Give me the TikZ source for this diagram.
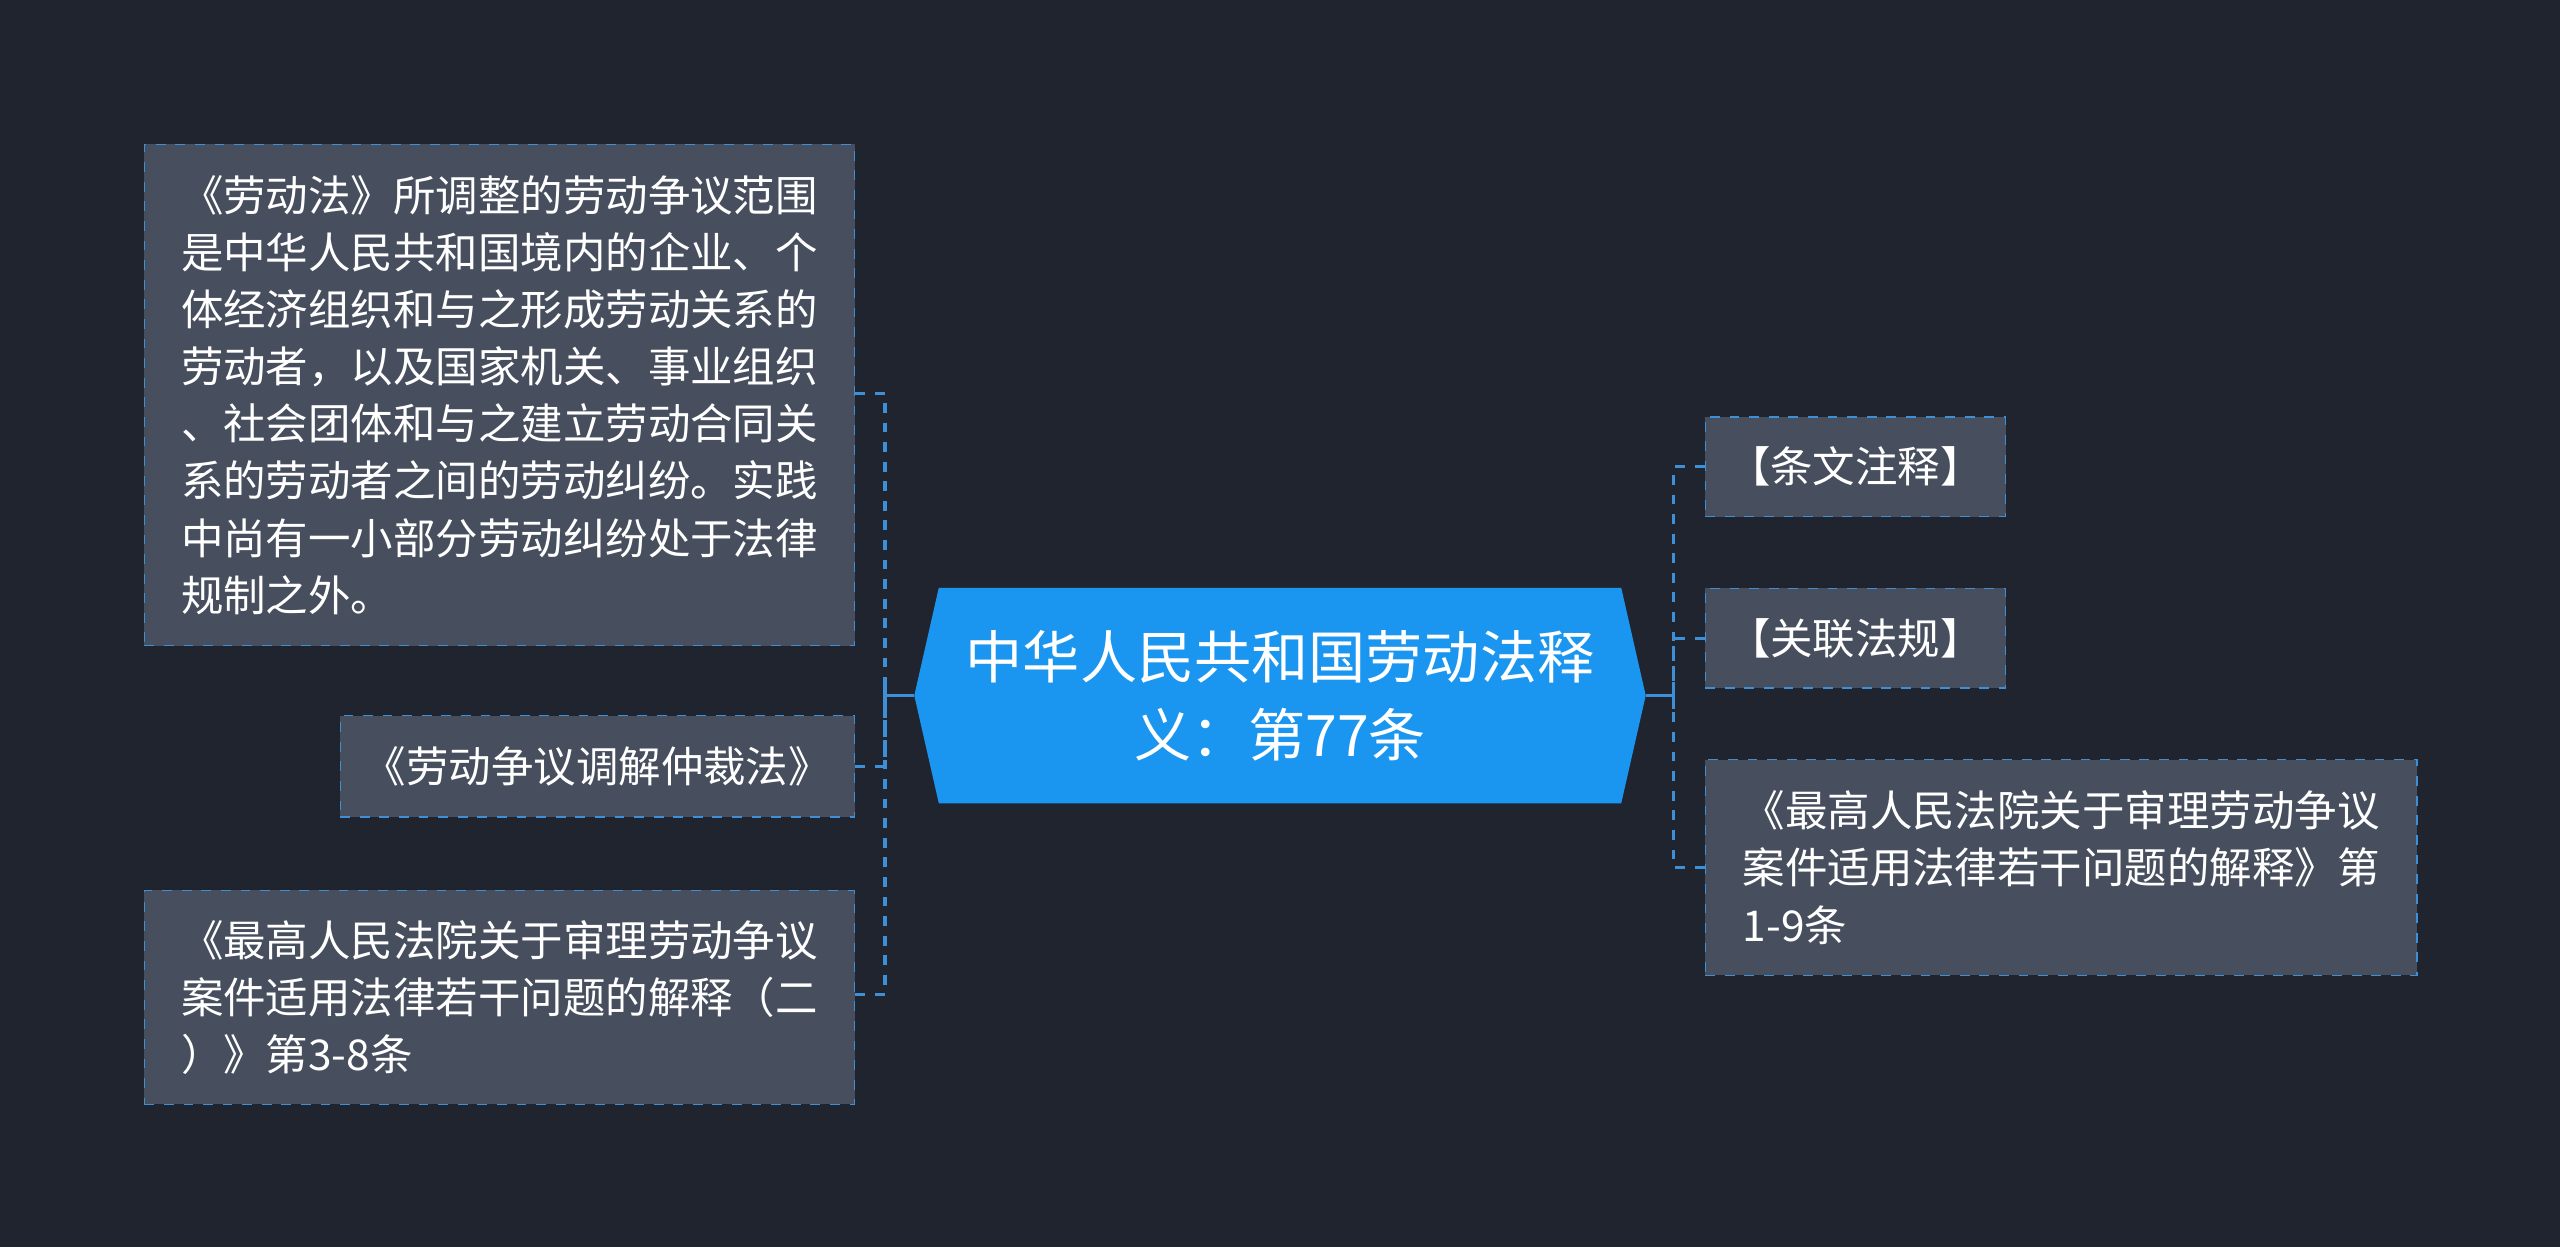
\documentclass[tikz,border=0pt]{standalone}
\usepackage{fontspec}
\setmainfont{Noto Sans CJK SC}
\definecolor{bgc}{HTML}{20242F}
\definecolor{boxc}{HTML}{474F5E}
\definecolor{linec}{HTML}{3D8FD8}
\definecolor{mainc}{HTML}{1A96F0}
\tikzset{
  leaf/.style={draw=linec, dashed, fill=boxc, text=white, anchor=north west, align=left,
    font=\fontsize{13pt}{17.5pt}\selectfont, inner xsep=3pt, inner ysep=0pt},
  link/.style={draw=linec, dashed, line width=1pt},
}
\begin{document}
\begin{tikzpicture}[x=0.5pt,y=-0.5pt]
\fill[bgc] (0,0) rectangle (1568,764);
\useasboundingbox (0,0) rectangle (1568,764);

%central topic
\fill[mainc] (560,426) -- (575,360) -- (993,360) -- (1008,426) -- (993,492) -- (575,492) -- cycle;
\node[text=white, align=center, font=\fontsize{17.5pt}{24pt}\selectfont] (main) at (784,426)
  {中华人民共和国劳动法释\\义：第77条};

%left leaves
\node[leaf, minimum width=217.5pt, minimum height=153.5pt] (l1) at (88,88)
  {《劳动法》所调整的劳动争议范围\\是中华人民共和国境内的企业、个\\体经济组织和与之形成劳动关系的\\劳动者，以及国家机关、事业组织\\、社会团体和与之建立劳动合同关\\系的劳动者之间的劳动纠纷。实践\\中尚有一小部分劳动纠纷处于法律\\规制之外。};
\node[leaf, minimum width=157.5pt, minimum height=31pt] (l2) at (208,438) {《劳动争议调解仲裁法》};
\node[leaf, minimum width=217.5pt, minimum height=65.5pt] (l3) at (88,545)
  {《最高人民法院关于审理劳动争议\\案件适用法律若干问题的解释（二\\）》第3-8条};

%right leaves
\node[leaf, minimum width=92pt, minimum height=30.5pt] (r1) at (1044,255) {【条文注释】};
\node[leaf, minimum width=92pt, minimum height=30.5pt] (r2) at (1044,360) {【关联法规】};
\node[leaf, minimum width=218pt, minimum height=66pt] (r3) at (1044,465)
  {《最高人民法院关于审理劳动争议\\案件适用法律若干问题的解释》第\\1-9条};

%connectors
\coordinate (lj) at (542,426);
\coordinate (rj) at (1025,426);
\draw[linec, line width=1.2pt] (560,426) -- (lj);
\draw[linec, line width=1.2pt] (542,418) -- (542,434);
\draw[linec, line width=1.2pt] (1008,426) -- (rj);
\draw[linec, line width=1.2pt] (1025,418) -- (1025,434);
\draw[link] (l1.east |- 0,241) -| (lj);
\draw[link] (l2.east) -| (lj);
\draw[link] (l3.east |- 0,609) -| (lj);
\draw[link] (r1.west) -| (rj);
\draw[link] (r2.west) -| (rj);
\draw[link] (r3.west) -| (rj);
\end{tikzpicture}
\end{document}
